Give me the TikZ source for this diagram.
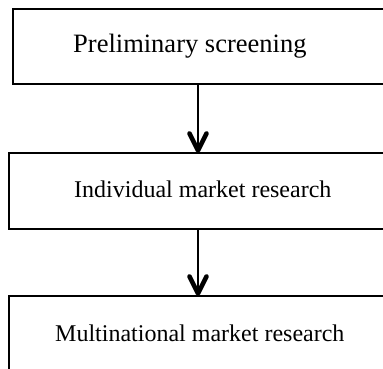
\documentclass[tikz,border=0pt]{standalone}
\usepackage{fontspec}
\setmainfont{Liberation Serif}
\usetikzlibrary{calc}
\begin{document}
\begin{tikzpicture}[x=1pt,y=-1pt,
  stage/.style={draw=black, line width=2.2pt, rectangle, inner sep=0pt, anchor=north west},
  label/.style={anchor=base west, inner sep=0pt, font=\fontsize{24}{28}\selectfont},
  flow/.style={line width=1.9pt},
  head/.style={line width=4.6pt, line cap=round, line join=round}]
  \useasboundingbox (0,0) rectangle (383,369);
  \clip (0,0) rectangle (383,369);
  % stage boxes, open to the right edge
  \node[stage, minimum width=400pt, minimum height=75pt] (b1) at (12,8) {};
  \node[stage, minimum width=400pt, minimum height=76pt] (b2) at (8,152) {};
  \node[stage, minimum width=400pt, minimum height=90pt] (b3) at (8,295) {};
  % stage names
  \node[label, font=\fontsize{26.5}{30}\selectfont] (t1) at (73,53) {Preliminary screening};
  \node[label] (t2) at (74,197) {Individual market research};
  \node[label] (t3) at (55,341) {Multinational market research};
  % flow between stages: shaft plus open V head
  \coordinate (ax) at (198,0);
  \draw[flow] (ax |- b1.south) -- (ax |- b2.north);
  \draw[head] ($(ax |- b2.north)+(-8.5,-18.5)$) -- ($(ax |- b2.north)+(0,-1.5)$) -- ++(8.5,-17);
  \draw[flow] (ax |- b2.south) -- (ax |- b3.north);
  \draw[head] ($(ax |- b3.north)+(-8.5,-18.5)$) -- ($(ax |- b3.north)+(0,-1.5)$) -- ++(8.5,-17);
\end{tikzpicture}
\end{document}
